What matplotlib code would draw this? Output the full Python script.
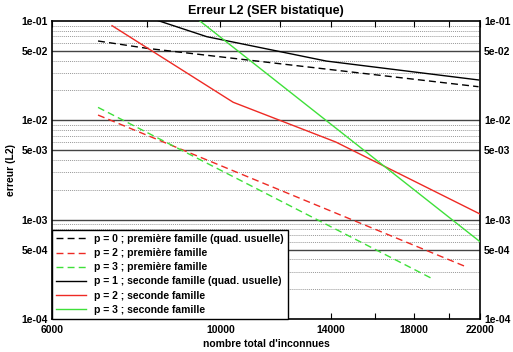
import matplotlib
matplotlib.use("Agg")
import matplotlib.pyplot as plt
from matplotlib.ticker import FixedLocator, NullFormatter

plt.rcParams['font.family'] = ['Liberation Sans', 'DejaVu Sans']
plt.rcParams['font.weight'] = 'bold'

# premiere famille
x_p0_f1 = [6900, 8000, 21900]
y_p0_f1 = [0.0629, 0.0531, 0.0218]
x_p2_f1 = [6900, 21100]
y_p2_f1 = [0.0113, 0.000335]
x_p3_f1 = [6900, 19100]
y_p3_f1 = [0.0135, 0.000251]
# seconde famille
x_p1_f2 = [8000, 9600, 13800, 21900]
y_p1_f2 = [0.11, 0.0695, 0.0395, 0.0255]
x_p2_f2 = [7200, 10400, 14200, 22000]
y_p2_f2 = [0.0897, 0.0152, 0.00605, 0.00114]
x_p3_f2 = [9000, 22000]
y_p3_f2 = [0.13, 0.0006]

labels = ["p = 0 ; première famille (quad. usuelle)",
          "p = 2 ; première famille",
          "p = 3 ; première famille",
          "p = 1 ; seconde famille (quad. usuelle)",
          "p = 2 ; seconde famille",
          "p = 3 ; seconde famille"]

xticks = [6000, 8000, 10000, 12000, 14000, 16000, 18000, 20000, 22000]
xlabels = ["6000", "", "10000", "", "14000", "", "18000", "", "22000"]
yticks = [1e-4, 5e-4, 1e-3, 5e-3, 1e-2, 5e-2, 1e-1]
ylabels = ["1e-04", "5e-04", "1e-03", "5e-03", "1e-02", "5e-02", "1e-01"]

red = "#ee2a24"
green = "#3fe03a"
dash = (0, (5, 3))

fig = plt.figure(figsize=(5.13, 3.52), dpi=100)
ax = fig.add_axes([52/513, 1-319/352, 428/513, 298/352])
ax.set_xscale("log")
ax.set_yscale("log")
ax.set_xlim(6000, 22000)
ax.set_ylim(1e-4, 1e-1)

# grille : pleine sur 1e-x / 5e-x, pointillee ailleurs
minors = [m * 10.0**k for k in (-4, -3, -2) for m in (2, 3, 4, 6, 7, 8, 9)]
for v in minors:
    ax.axhline(v, color="#999999", lw=0.7, ls=(0, (1, 1)), zorder=1)
for v in yticks[1:-1]:
    ax.axhline(v, color="#444444", lw=1.0, zorder=1)

ax.plot(x_p0_f1, y_p0_f1, color="black", lw=1.0, ls=dash, label=labels[0], zorder=3)
ax.plot(x_p2_f1, y_p2_f1, color=red, lw=1.0, ls=dash, label=labels[1], zorder=3)
ax.plot(x_p3_f1, y_p3_f1, color=green, lw=1.0, ls=dash, label=labels[2], zorder=3)
ax.plot(x_p1_f2, y_p1_f2, color="black", lw=1.0, label=labels[3], zorder=3)
ax.plot(x_p2_f2, y_p2_f2, color=red, lw=1.0, label=labels[4], zorder=3)
ax.plot(x_p3_f2, y_p3_f2, color=green, lw=1.0, label=labels[5], zorder=3)

ax.xaxis.set_major_locator(FixedLocator(xticks))
ax.set_xticklabels(xlabels)
ax.xaxis.set_minor_locator(FixedLocator([]))
ax.yaxis.set_major_locator(FixedLocator(yticks))
ax.set_yticklabels(ylabels)
ax.yaxis.set_minor_locator(FixedLocator([]))
ax.yaxis.set_minor_formatter(NullFormatter())
ax.tick_params(axis="x", direction="in", top=True, length=4, width=0.8,
               labelsize=7.5, pad=4)
ax.tick_params(axis="y", length=0, right=True, labelright=True,
               labelsize=7.5, pad=3)
for lab in ax.get_xticklabels() + ax.get_yticklabels():
    lab.set_fontweight("bold")

for s in ax.spines.values():
    s.set_linewidth(1.2)

ax.set_title("Erreur L2 (SER bistatique)", fontsize=9, fontweight="bold", pad=5)
ax.set_xlabel("nombre total d'inconnues", fontsize=7.5, fontweight="bold", labelpad=3)
ax.set_ylabel("erreur (L2)", fontsize=7.5, fontweight="bold", labelpad=4)

leg = ax.legend(loc="lower left", bbox_to_anchor=(0, 0), fontsize=7.5,
                frameon=True, fancybox=False, framealpha=1, borderaxespad=0,
                handlelength=2.9, handletextpad=0.75, labelspacing=0.4,
                borderpad=0.4, edgecolor="black")
leg.get_frame().set_linewidth(1.0)
leg.set_zorder(5)
for t in leg.get_texts():
    t.set_fontweight("bold")

fig.savefig("out.png", dpi=100)
